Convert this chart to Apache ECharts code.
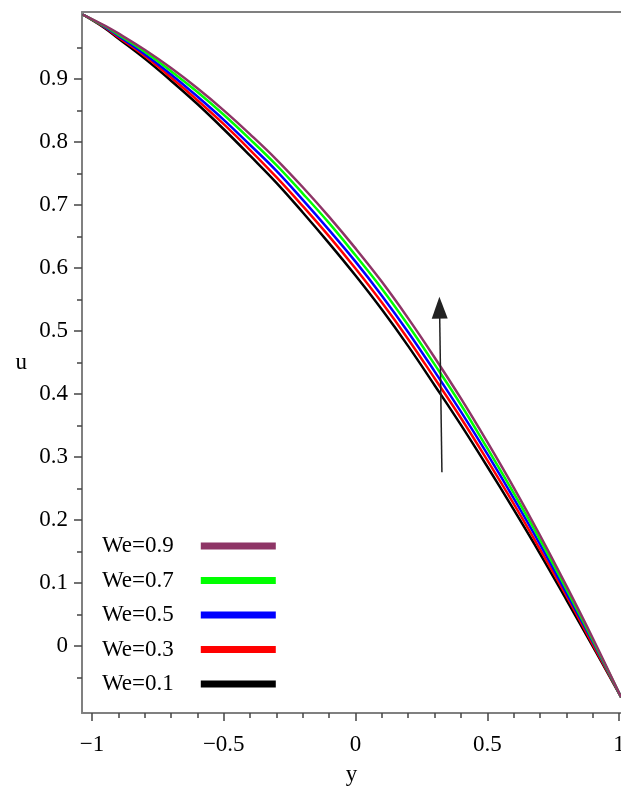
<!DOCTYPE html>
<html><head><meta charset="utf-8">
<script src="https://cdn.jsdelivr.net/npm/echarts@6/dist/echarts.min.js"></script>
<style>html,body{margin:0;padding:0;background:#fff}#c{width:621px;height:792px}</style>
</head><body><div id="c"></div>
<script>
// ---- data ----
const xs = [-1.035,-0.95,-0.9,-0.8,-0.7,-0.6,-0.5,-0.4,-0.3,-0.2,-0.1,0,0.1,0.2,0.3,0.4,0.5,0.6,0.7,0.8,0.9,1.008];
const uWe09 = [1.002,0.984,0.972,0.946,0.917,0.885,0.850,0.812,0.772,0.728,0.681,0.631,0.578,0.520,0.458,0.393,0.324,0.252,0.176,0.096,0.013,-0.081];
const uWe07 = [1.002,0.983,0.970,0.943,0.912,0.879,0.843,0.804,0.763,0.718,0.671,0.620,0.567,0.509,0.447,0.383,0.314,0.243,0.169,0.091,0.010,-0.081];
const uWe05 = [1.002,0.982,0.968,0.939,0.907,0.872,0.835,0.795,0.754,0.708,0.660,0.610,0.556,0.498,0.436,0.372,0.305,0.235,0.162,0.085,0.007,-0.081];
const uWe03 = [1.002,0.981,0.966,0.936,0.902,0.866,0.828,0.787,0.744,0.698,0.650,0.599,0.545,0.487,0.425,0.362,0.295,0.226,0.154,0.080,0.003,-0.081];
const uWe01 = [1.002,0.980,0.964,0.932,0.897,0.860,0.820,0.778,0.735,0.688,0.639,0.588,0.534,0.476,0.414,0.351,0.285,0.217,0.147,0.074,0.000,-0.081];
const seriesNames = ['We=0.9','We=0.7','We=0.5','We=0.3','We=0.1'];
const xTickLabels = [-1,-0.5,0,0.5,1];
const xMinorTicks = [-1,-0.9,-0.8,-0.7,-0.6,-0.5,-0.4,-0.3,-0.2,-0.1,0,0.1,0.2,0.3,0.4,0.5,0.6,0.7,0.8,0.9,1];
const yTickLabels = [0,0.1,0.2,0.3,0.4,0.5,0.6,0.7,0.8,0.9];
const yMinorTicks = [-0.05,0,0.05,0.1,0.15,0.2,0.25,0.3,0.35,0.4,0.45,0.5,0.55,0.6,0.65,0.7,0.75,0.8,0.85,0.9,0.95];
const arrowFrom = [0.328,0.276];
const arrowTo = [0.319,0.537];

const colors = ['#8e3566','#00ff00','#0000ff','#ff0000','#000000'];
const vals = [uWe09,uWe07,uWe05,uWe03,uWe01];
const FONT = 'Liberation Serif';
const fmt = v => (v < 0 ? '\u2212' : '') + String(Math.abs(v));

const X_MIN = -1.038, X_MAX = 1.0076, Y_MIN = -0.106, Y_MAX = 1.006;
const axisLineStyle = {color:'#808080', width:2};

const series = [];
for (let i = vals.length - 1; i >= 0; i--) {
  series.push({
    name: seriesNames[i], type:'line', symbol:'none', smooth:0.4,
    data: xs.map((x,k)=>[x, vals[i][k]]),
    lineStyle:{color:colors[i], width:2.5},
    itemStyle:{color:colors[i]},
    emphasis:{disabled:true}, z: 3
  });
}
series[series.length-1].markLine = {
  silent:true, animation:false,
  symbol:['none','triangle'], symbolSize:[16,22],
  label:{show:false},
  lineStyle:{color:'#222', width:1.5, type:'solid'},
  emphasis:{disabled:true},
  data:[[{coord:arrowFrom},{coord:arrowTo}]]
};

const chart = echarts.init(document.getElementById('c'), null, {renderer:'canvas'});
chart.setOption({
  animation:false,
  backgroundColor:'#fff',
  grid:{left:82, top:12, right:0, bottom:79, containLabel:false, outerBoundsMode:'none'},
  legend:{
    orient:'vertical', left:97, top:529, align:'right',
    data: seriesNames, icon:'rect', itemWidth:75, itemHeight:7, itemGap:10.5,
    textStyle:{fontFamily:FONT, fontSize:23, color:'#000', lineHeight:24, padding:[0,22,0,0]},
    selectedMode:false
  },
  xAxis:[{
    type:'value', min:X_MIN, max:X_MAX, position:'bottom',
    name:'y', nameLocation:'middle', nameGap:50,
    nameTextStyle:{fontFamily:FONT, fontSize:23, color:'#000'},
    axisLine:{show:true, onZero:false, lineStyle:axisLineStyle},
    axisTick:{show:true, customValues:xMinorTicks, length:5, lineStyle:{color:'#444', width:1.5}},
    axisLabel:{customValues:xTickLabels, formatter:fmt, margin:20, fontFamily:FONT, fontSize:23, color:'#000'},
    splitLine:{show:false}
  },{
    type:'value', min:X_MIN, max:X_MAX, position:'bottom',
    axisLine:{show:false, onZero:false},
    axisTick:{show:true, customValues:xTickLabels, length:8, lineStyle:{color:'#444', width:1.5}},
    axisLabel:{show:false}, splitLine:{show:false}
  },{
    type:'value', min:X_MIN, max:X_MAX, position:'top',
    axisLine:{show:true, onZero:false, lineStyle:axisLineStyle},
    axisTick:{show:false}, axisLabel:{show:false}, splitLine:{show:false}
  }],
  yAxis:[{
    type:'value', min:Y_MIN, max:Y_MAX, position:'left',
    name:'u', nameLocation:'middle', nameGap:55, nameRotate:0,
    nameTextStyle:{fontFamily:FONT, fontSize:23, color:'#000'},
    axisLine:{show:true, onZero:false, lineStyle:axisLineStyle},
    axisTick:{show:true, customValues:yMinorTicks, length:5, lineStyle:{color:'#444', width:1.5}},
    axisLabel:{customValues:yTickLabels, formatter:fmt, margin:14, fontFamily:FONT, fontSize:23, color:'#000'},
    splitLine:{show:false}
  },{
    type:'value', min:Y_MIN, max:Y_MAX, position:'left',
    axisLine:{show:false, onZero:false},
    axisTick:{show:true, customValues:yTickLabels, length:8, lineStyle:{color:'#444', width:1.5}},
    axisLabel:{show:false}, splitLine:{show:false}
  }],
  series: series
});
</script></body></html>
